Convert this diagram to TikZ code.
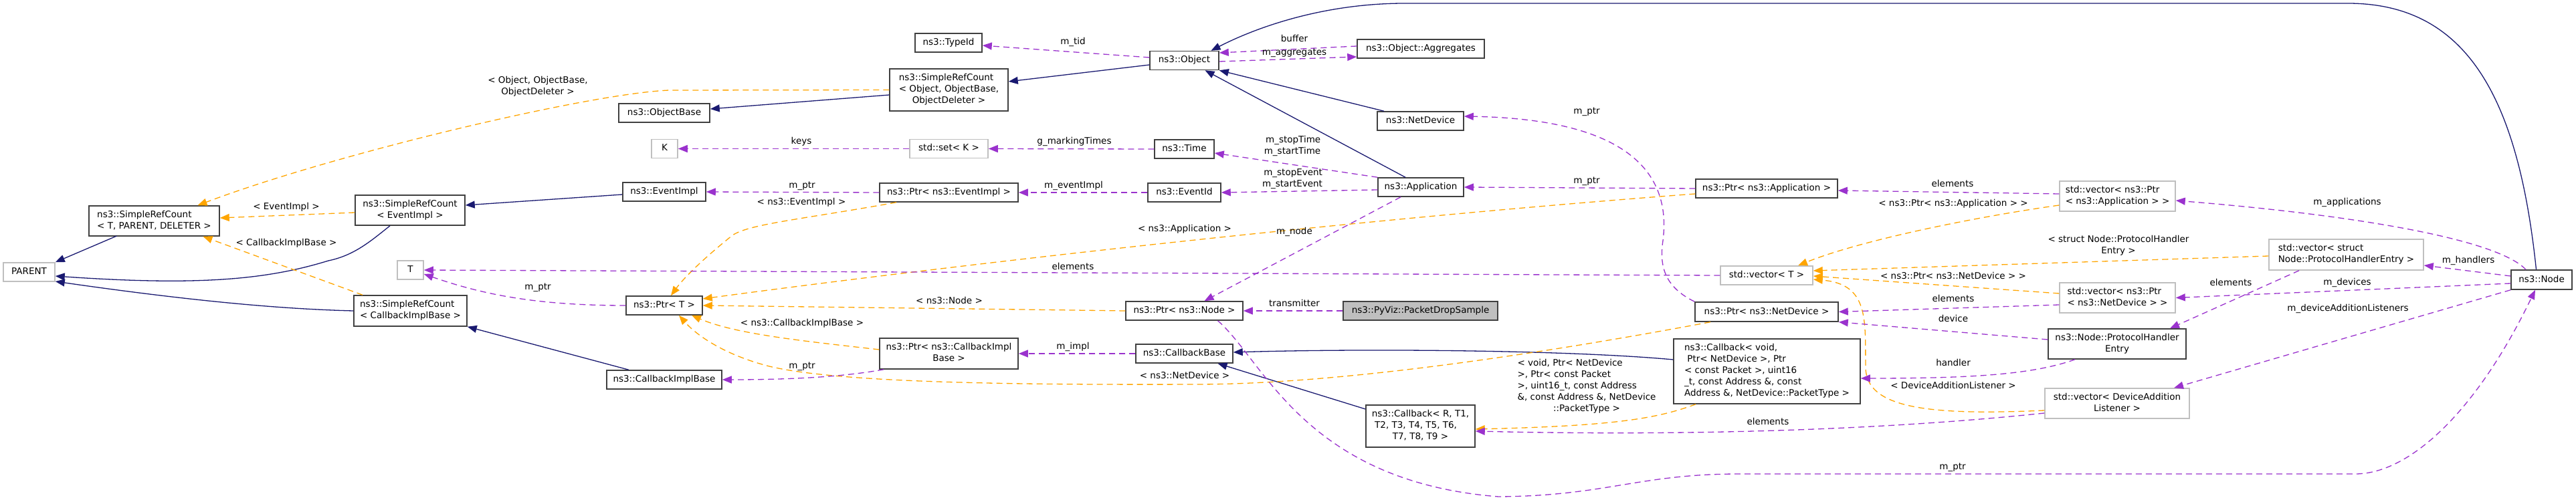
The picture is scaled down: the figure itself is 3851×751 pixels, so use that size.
\documentclass[tikz,border=0pt]{standalone}
\usepackage{fontspec}
\setmainfont{DejaVu Sans}
\usetikzlibrary{arrows.meta,calc}
\definecolor{inhc}{HTML}{191970}
\definecolor{memc}{HTML}{9A32CD}
\definecolor{tmpc}{HTML}{FFA500}
\definecolor{grayb}{HTML}{BFBFBF}
\definecolor{boxb}{HTML}{404040}
\newcommand\fs{\fontsize{13.5}{17}\selectfont}
\newcommand\ML[2]{\begin{tabular}{@{}l@{}}#1\\\multicolumn{1}{@{}c@{}}{#2}\end{tabular}}
\begin{document}
\begin{tikzpicture}[x=1pt, y=-1pt,
  box/.style={draw=boxb, line width=1.5pt, fill=white, inner sep=0pt, minimum height=28pt, font=\fs},
  gbox/.style={box, draw=grayb},
  one/.style={text height=10pt, text depth=3pt},
  lbl/.style={inner sep=0pt, font=\fs, text height=10pt, text depth=3pt},
  mlbl/.style={inner sep=0pt, font=\fs},
  tip/.style={-{Triangle[length=14pt,width=11pt]}},
  inh/.style={draw=inhc, line width=1.3pt, tip},
  mem/.style={draw=memc, line width=1.3pt, dash pattern=on 9pt off 6pt, tip},
  tmp/.style={draw=tmpc, line width=1.3pt, dash pattern=on 9pt off 6pt, tip}]
\useasboundingbox (0,0) rectangle (3851,751);

% ---------- nodes ----------
\node[box, minimum width=195pt, minimum height=45pt] (srcT) at (230.5,330.5) {\ML{ns3::SimpleRefCount}{< T, PARENT, DELETER >}};
\node[gbox, one, minimum width=77pt] (parent) at (43.5,407) {PARENT};
\node[box, minimum width=164pt, minimum height=45pt] (srcEv) at (613,314.5) {\ML{ns3::SimpleRefCount}{< EventImpl >}};
\node[box, minimum width=169pt, minimum height=46pt] (srcCb) at (613.5,465) {\ML{ns3::SimpleRefCount}{< CallbackImplBase >}};
\node[gbox, one, minimum width=39pt] (T) at (613.5,404) {T};
\node[box, one, minimum width=136pt] (objBase) at (993,169) {ns3::ObjectBase};
\node[gbox, one, minimum width=39pt] (K) at (993.5,222.5) {K};
\node[box, one, minimum width=124pt] (evImpl) at (993,287) {ns3::EventImpl};
\node[box, one, minimum width=114pt] (ptrT) at (993,457) {ns3::Ptr< T >};
\node[box, one, minimum width=172pt] (cbImplBase) at (993,568) {ns3::CallbackImplBase};
\node[box, one, minimum width=100pt] (typeId) at (1418,64) {ns3::TypeId};
\node[box, minimum width=177pt, minimum height=63pt] (srcObj) at (1418.5,134.5) {\ML{ns3::SimpleRefCount\\< Object, ObjectBase,}{ObjectDeleter >}};
\node[gbox, one, minimum width=117pt] (setK) at (1418.5,222.5) {std::set< K >};
\node[box, one, minimum width=207pt] (ptrEv) at (1418.5,288) {ns3::Ptr< ns3::EventImpl >};
\node[box, minimum width=207pt, minimum height=46pt] (ptrCb) at (1418.5,529) {\ML{ns3::Ptr< ns3::CallbackImpl}{Base >}};
\node[box, one, minimum width=103pt] (object) at (1770.5,90.5) {ns3::Object};
\node[box, one, minimum width=89pt] (time) at (1770.5,223) {ns3::Time};
\node[box, one, minimum width=109pt] (eventId) at (1770.5,288) {ns3::EventId};
\node[box, one, minimum width=175pt] (ptrNode) at (1770.5,465) {ns3::Ptr< ns3::Node >};
\node[box, one, minimum width=145pt] (cbBase) at (1770.5,529) {ns3::CallbackBase};
\node[box, one, minimum width=190pt] (aggr) at (2124,73) {ns3::Object::Aggregates};
\node[box, one, minimum width=129pt] (netDev) at (2123.5,181) {ns3::NetDevice};
\node[box, one, minimum width=128pt] (app) at (2124,280) {ns3::Application};
\node[box, one, fill=grayb, minimum width=231pt] (pds) at (2123.5,465) {ns3::PyViz::PacketDropSample};
\node[box, minimum width=163pt, minimum height=63pt] (cbR) at (2123.5,637.5) {\ML{ns3::Callback< R, T1,\\\ T2, T3, T4, T5, T6,}{T7, T8, T9 >}};
\node[box, one, minimum width=212pt] (ptrApp) at (2641,282) {ns3::Ptr< ns3::Application >};
\node[gbox, one, minimum width=138pt] (vecT) at (2641,412) {std::vector< T >};
\node[box, one, minimum width=214pt, minimum height=29pt] (ptrNd) at (2641,466.5) {ns3::Ptr< ns3::NetDevice >};
\node[box, minimum width=279pt, minimum height=97pt] (cbVoid) at (2641.5,555.5) {\ML{ns3::Callback< void,\\\ Ptr< NetDevice >, Ptr\\< const Packet >, uint16\\\_t, const Address \&, const}{Address \&, NetDevice::PacketType >}};
\node[gbox, minimum width=173pt, minimum height=45pt] (vecApp) at (3165.5,293.5) {\ML{std::vector< ns3::Ptr}{< ns3::Application > >}};
\node[gbox, minimum width=173pt, minimum height=45pt] (vecNd) at (3165.5,445.5) {\ML{std::vector< ns3::Ptr}{< ns3::NetDevice > >}};
\node[box, minimum width=206pt, minimum height=45pt] (phe) at (3165,514.5) {\ML{ns3::Node::ProtocolHandler}{Entry}};
\node[gbox, minimum width=216pt, minimum height=45pt] (vecDal) at (3165,603.5) {\ML{std::vector< DeviceAddition}{Listener >}};
\node[gbox, minimum width=231pt, minimum height=46pt] (vecPhe) at (3507.5,381) {\ML{std::vector< struct}{Node::ProtocolHandlerEntry >}};
\node[box, one, minimum width=91pt, minimum height=29pt] (nNode) at (3799.5,418.5) {ns3::Node};

% ---------- inheritance ----------
\draw[inh] ($(srcT.center)+(-56,22.5)$) -- (parent.north east);
\draw[inh] ($(srcEv.south)+(-30,0)$) .. controls (555,360) and (530,382) .. (491,390) .. controls (400,418) and (300,428) .. ($(parent.east)+(0,6)$);
\draw[inh] (srcCb.west) .. controls (400,462) and (250,445) .. ($(parent.east)+(0,14)$);
\draw[inh] ($(evImpl.west)+(0,4)$) -- ($(srcEv.east)+(0,-7.5)$);
\draw[inh] ($(srcObj.west)+(0,7.5)$) -- ($(objBase.east)+(0,-6)$);
\draw[inh] ($(object.west)+(0,6.5)$) -- ($(srcObj.east)+(0,-12.5)$);
\draw[inh] ($(netDev.north)+(-54.5,0)$) -- (object.south east);
\draw[inh] ($(app.north)+(-23,0)$) -- ($(object.south)+(31,0)$);
\draw[inh] ($(nNode.north)+(-8,0)$) .. controls (3765,150) and (3690,5) .. (3510,5) -- (2100,5) .. controls (1980,5) and (1880,40) .. ($(object.north)+(40,0)$);
\draw[inh] ($(cbImplBase.north)+(-53,0)$) -- (srcCb.south east);
\draw[inh] ($(cbVoid.west)+(0,-17.5)$) .. controls (2350,524) and (2050,521) .. ($(cbBase.east)+(0,-2)$);
\draw[inh] ($(cbR.west)+(0,-25.5)$) -- ($(cbBase.south)+(50,0)$);

% ---------- template instances ----------
\draw[tmp] (srcObj.west) -- (1000,135) .. controls (880,140) and (500,230) .. ($(srcT.north)+(65,0)$);
\draw[tmp] ($(srcEv.west)+(0,3.5)$) -- ($(srcT.east)+(0,-4.5)$);
\draw[tmp] ($(srcCb.north)+(-71.5,0)$) -- ($(srcT.south)+(73,0)$);
\draw[tmp] ($(ptrEv.south)+(-78.5,0)$) .. controls (1200,328) and (1120,335) .. (1095,352) .. controls (1060,380) and (1025,412) .. ($(ptrT.north)+(10,0)$);
\draw[tmp] ($(ptrApp.west)+(0,8)$) .. controls (2000,330) and (1400,400) .. ($(ptrT.east)+(0,-10)$);
\draw[tmp] (ptrNode.west) -- (ptrT.east);
\draw[tmp] ($(ptrCb.west)+(0,-6)$) .. controls (1200,510) and (1100,500) .. ($(ptrT.south)+(41,0)$);
\draw[tmp] ($(ptrNd.south)+(-84,0)$) .. controls (2300,530) and (2000,575) .. (1787,575) .. controls (1500,576) and (1250,572) .. (1150,548) .. controls (1080,530) and (1040,500) .. ($(ptrT.south)+(22,0)$);
\draw[tmp] ($(vecApp.west)+(0,13.5)$) .. controls (2950,325) and (2780,360) .. ($(vecT.north)+(47,0)$);
\draw[tmp] ($(vecPhe.west)+(0,2)$) -- ($(vecT.east)+(0,-7)$);
\draw[tmp] ($(vecNd.west)+(0,-6.5)$) -- ($(vecT.east)+(0,1)$);
\draw[tmp] ($(vecDal.west)+(0,10.5)$) .. controls (2880,622) and (2790,610) .. (2789,550) .. controls (2788,480) and (2795,425) .. ($(vecT.east)+(0,6)$);
\draw[tmp] ($(cbVoid.south)+(-106.5,0)$) .. controls (2480,625) and (2420,637) .. ($(cbR.east)+(0,4.5)$);

% ---------- members ----------
\draw[mem] ($(object.west)+(0,-4.5)$) -- ($(typeId.east)+(0,4)$);
\draw[mem] ($(aggr.west)+(0,-4)$) -- ($(object.east)+(0,-11.5)$);
\draw[mem] ($(object.east)+(0,1.5)$) -- ($(aggr.west)+(0,12)$);
\draw[mem] (setK.west) -- (K.east);
\draw[mem] (time.west) -- (setK.east);
\draw[mem] (ptrEv.west) -- (evImpl.east);
\draw[mem] (eventId.west) -- (ptrEv.east);
\draw[mem] (app.north west) -- ($(time.east)+(0,6)$);
\draw[mem] ($(app.west)+(0,4)$) -- (eventId.east);
\draw[mem] ($(app.south)+(-30,0)$) -- ($(ptrNode.north)+(30,0)$);
\draw[mem] (ptrApp.west) -- (app.east);
\draw[mem] (ptrNd.north west) .. controls (2490,430) and (2480,400) .. (2486,360) .. controls (2500,250) and (2420,178) .. ($(netDev.east)+(0,-7)$);
\draw[mem] ($(vecApp.west)+(0,-3.5)$) -- ($(ptrApp.east)+(0,3)$);
\draw[mem] (vecT.west) -- (T.east);
\draw[mem] (ptrT.west) .. controls (800,457) and (720,440) .. ($(T.east)+(0,6)$);
\draw[mem] (pds.west) -- (ptrNode.east);
\draw[mem] ($(ptrCb.south west)+(7,0)$) .. controls (1270,562) and (1200,568) .. (cbImplBase.east);
\draw[mem] (cbBase.west) -- (ptrCb.east);
\draw[mem] ($(vecNd.west)+(0,10.5)$) -- (ptrNd.east);
\draw[mem] ($(phe.west)+(0,-6.5)$) -- (ptrNd.south east);
\draw[mem] ($(phe.south)+(-63,0)$) .. controls (3040,560) and (2950,566) .. ($(cbVoid.east)+(0,10.5)$);
\draw[mem] ($(vecDal.west)+(0,14.5)$) .. controls (2800,645) and (2500,652) .. ($(cbR.east)+(0,7.5)$);
\draw[mem] ($(nNode.north)+(-23.5,0)$) .. controls (3730,355) and (3500,320) .. ($(vecApp.east)+(0,6.5)$);
\draw[mem] ($(nNode.west)+(0,-5.5)$) -- ($(vecPhe.east)+(0,16)$);
\draw[mem] ($(nNode.west)+(0,5.5)$) -- (vecNd.east);
\draw[mem] (nNode.south west) -- ($(vecDal.north)+(85,0)$);
\draw[mem] ($(vecPhe.south)+(-70.5,0)$) -- ($(phe.north)+(79,0)$);
\draw[mem] ($(ptrNode.south)+(50,0)$) .. controls (1890,540) and (1950,720) .. (2240,743) .. controls (2400,742) and (2450,709) .. (2600,709) -- (3521,709) .. controls (3600,709) and (3700,620) .. ($(nNode.south)+(-9.5,0)$);

% ---------- edge labels ----------
\node[mlbl, align=center] (l1) at (804,129) {< Object, ObjectBase,\\ObjectDeleter >};
\node[lbl] (l2) at (428,310) {< EventImpl >};
\node[lbl] (l3) at (428,364) {< CallbackImplBase >};
\node[lbl] (l4) at (1604,63) {m\_tid};
\node[lbl] (l5) at (1935,59) {buffer};
\node[lbl] (l6) at (1935,79) {m\_aggregates};
\node[lbl] (l7) at (1198,212) {keys};
\node[lbl] (l8) at (1606,212) {g\_markingTimes};
\node[lbl] (l9) at (1199,278) {m\_ptr};
\node[lbl] (l10) at (1198,303) {< ns3::EventImpl >};
\node[lbl] (l11) at (1605,278) {m\_eventImpl};
\node[mlbl, align=right] (l12) at (1932,218.5) {m\_stopTime\\m\_startTime};
\node[mlbl, align=right] (l13) at (1932,267.5) {m\_stopEvent\\m\_startEvent};
\node[lbl] (l14) at (1771,343) {< ns3::Application >};
\node[lbl] (l15) at (1935,347) {m\_node};
\node[lbl] (l16) at (2372,167) {m\_ptr};
\node[lbl] (l17) at (2372,271) {m\_ptr};
\node[lbl] (l18) at (2919,276) {elements};
\node[lbl] (l19) at (2920,305) {< ns3::Ptr< ns3::Application > >};
\node[mlbl, align=center] (l20) at (3167,367) {< struct Node::ProtocolHandler\\Entry >};
\node[lbl] (l21) at (3509,303) {m\_applications};
\node[lbl] (l22) at (3690,390) {m\_handlers};
\node[lbl] (l23) at (3335,424) {elements};
\node[lbl] (l24) at (3509,423) {m\_devices};
\node[lbl] (l25) at (3510,462) {m\_deviceAdditionListeners};
\node[lbl] (l26) at (2920,414) {< ns3::Ptr< ns3::NetDevice > >};
\node[lbl] (l27) at (2920,448) {elements};
\node[lbl] (l28) at (2920,478) {device};
\node[lbl] (l29) at (2920,544) {handler};
\node[lbl] (l30) at (2920,578) {< DeviceAdditionListener >};
\node[lbl] (l31) at (2643,632) {elements};
\node[lbl] (l32) at (2919,699) {m\_ptr};
\node[lbl] (l33) at (1604,400) {elements};
\node[lbl] (l34) at (804,430) {m\_ptr};
\node[lbl] (l35) at (1419,451) {< ns3::Node >};
\node[lbl] (l36) at (1199,484) {< ns3::CallbackImplBase >};
\node[lbl] (l37) at (1199,548) {m\_ptr};
\node[lbl] (l38) at (1935,455) {transmitter};
\node[lbl] (l39) at (1604,519) {m\_impl};
\node[lbl] (l40) at (1771,563) {< ns3::NetDevice >};
\node[mlbl] (l41) at (2372,578) {\ML{< void, Ptr< NetDevice\\>, Ptr< const Packet\\>, uint16\_t, const Address\\\&, const Address \&, NetDevice}{::PacketType >}};
\end{tikzpicture}
\end{document}
